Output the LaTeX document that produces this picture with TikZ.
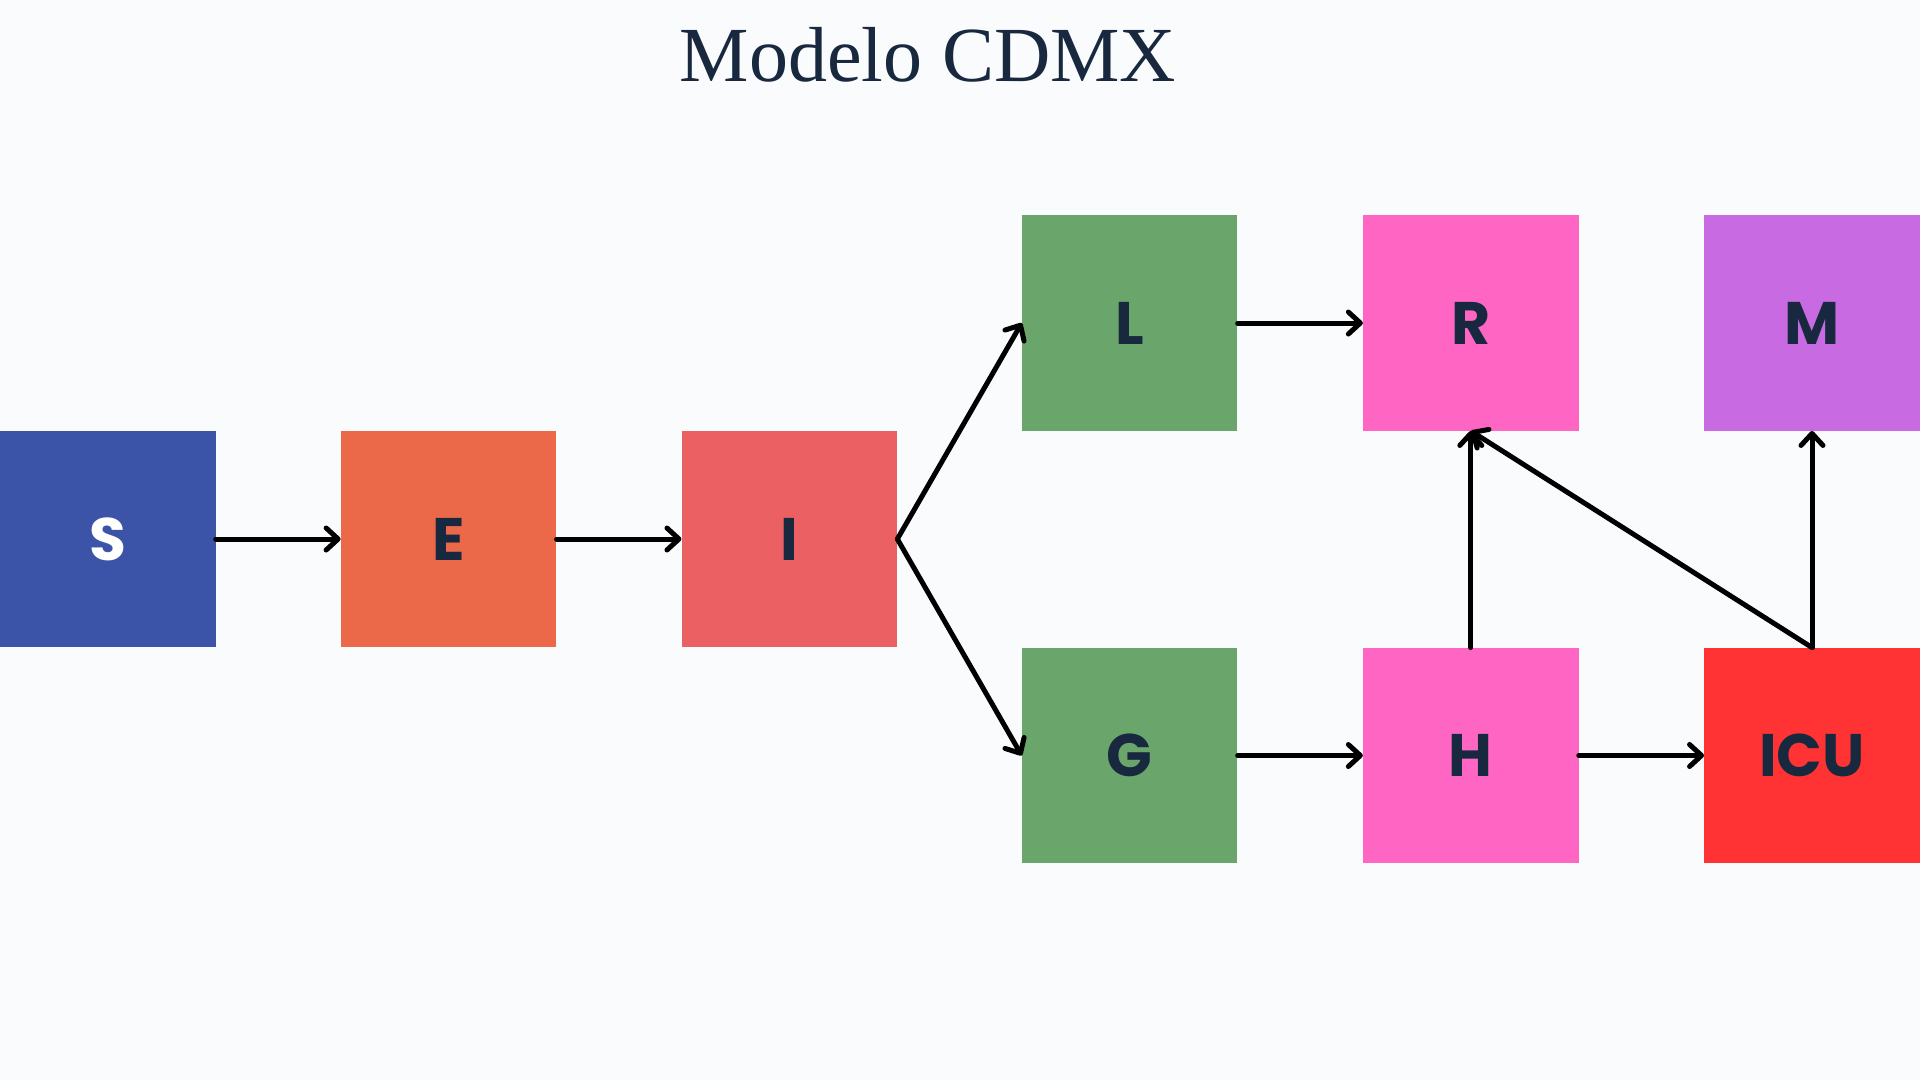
\documentclass[tikz,border=0pt]{standalone}
\usepackage{fontspec}
\setmainfont{Liberation Serif}
\newfontfamily\labfont{Poppins}
\usetikzlibrary{arrows.meta}
\definecolor{bgc}{HTML}{F9FBFD}
\definecolor{ink}{HTML}{18293F}
\definecolor{cS}{HTML}{3B54A8}
\definecolor{cE}{HTML}{EB6849}
\definecolor{cI}{HTML}{EB6063}
\definecolor{cG}{HTML}{6AA56B}
\definecolor{cR}{HTML}{FF66C4}
\definecolor{cM}{HTML}{C86BE3}
\definecolor{cU}{HTML}{FF3333}
\tikzset{
  box/.style={rectangle, minimum width=215.5pt, minimum height=215.5pt, inner sep=0pt,
    font=\labfont\bfseries\fontsize{60}{62}\selectfont, text=ink},
  arr/.style={draw=black, line width=5pt, line cap=round, line join=round,
    -{Straight Barb[length=12pt,width=22pt,line cap=round,line join=round]}}
}
\begin{document}
\begin{tikzpicture}[x=1pt,y=-1pt]
\fill[bgc] (0,0) rectangle (1920,1080);
\useasboundingbox (0,0) rectangle (1920,1080);
\node[anchor=base, text=ink, font=\fontsize{78}{82}\selectfont] (title) at (928,81) {Modelo CDMX};
\node[box, fill=cS, text=white] (S) at (107.8,539) {S};
\node[box, fill=cE] (E) at (448.6,539) {E};
\node[box, fill=cI] (I) at (789.4,539) {I};
\node[box, fill=cG] (L) at (1129.7,323) {L};
\node[box, fill=cG] (G) at (1129.7,755.5) {G};
\node[box, fill=cR] (R) at (1470.8,323) {R};
\node[box, fill=cR] (H) at (1470.8,755.5) {H};
\node[box, fill=cM] (M) at (1812,323) {M};
\node[box, fill=cU] (U) at (1812,755.5) {ICU};
\draw[arr] (S.east) -- (E.west);
\draw[arr] (E.east) -- (I.west);
\draw[arr] (I.east) -- (L.west);
\draw[arr] (I.east) -- (G.west);
\draw[arr] (L.east) -- (R.west);
\draw[arr] (G.east) -- (H.west);
\draw[arr] (H.east) -- (U.west);
\draw[arr] (H.north) -- (R.south);
\draw[arr] (U.north) -- (R.south);
\draw[arr] (U.north) -- (M.south);
\end{tikzpicture}
\end{document}
